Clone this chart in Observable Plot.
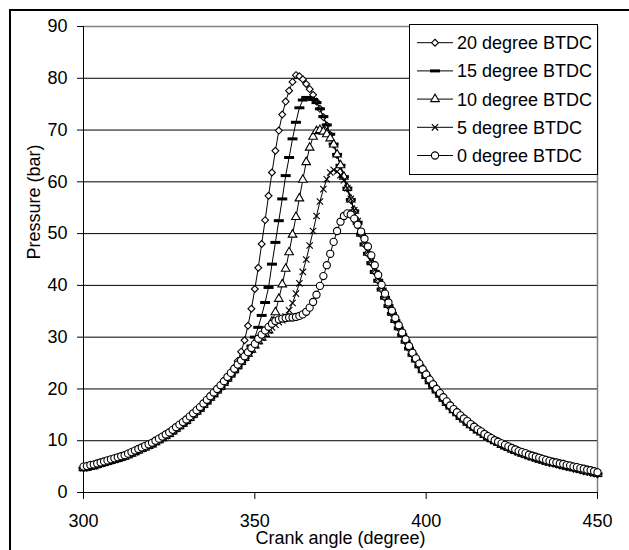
<!DOCTYPE html>
<html>
<head>
<meta charset="utf-8">
<script src="https://cdn.jsdelivr.net/npm/d3@7"></script>
<script src="https://cdn.jsdelivr.net/npm/@observablehq/plot@0.6"></script>
<style>
  html, body { margin: 0; padding: 0; background: #fff; }
  #wrap { position: relative; width: 629px; height: 550px; overflow: hidden; background: #fff;
          font-family: "Liberation Sans", Arial, sans-serif; }
  #wrap svg { position: absolute; left: 0; top: 0; }
  #outer { position: absolute; left: 9px; top: 9px; width: 700px; height: 700px;
           border-left: 2px solid #000; border-top: 2px solid #000; box-sizing: border-box; }
</style>
</head>
<body>
<div id="wrap"></div>
<script>
// ---------- data ----------
const seriesNames = ["20 degree BTDC", "15 degree BTDC", "10 degree BTDC", "5 degree BTDC", "0 degree BTDC"];
const xTicks = [300, 350, 400, 450];
const yTicks = [0, 10, 20, 30, 40, 50, 60, 70, 80, 90];
const crankAngle = d3.range(300, 451, 1); // sampling grid, 1 degree

const p20 = [
  4.7,4.8,5.0,5.1,5.3,5.5,5.7,5.9,6.1,6.3,
  6.5,6.7,6.9,7.2,7.5,7.8,8.1,8.4,8.7,9.0,
  9.3,9.7,10.1,10.5,10.9,11.3,11.8,12.3,12.8,13.3,
  13.8,14.4,15.0,15.6,16.2,16.9,17.6,18.3,19.0,19.7,
  20.4,21.2,22.0,22.8,24.0,25.4,27.2,29.4,32.2,35.5,
  39.3,43.4,48.0,52.6,57.3,61.8,66.0,69.9,73.0,75.5,
  77.6,79.3,80.6,80.4,79.8,78.9,77.9,76.8,75.5,74.1,
  72.5,70.9,69.1,67.2,65.2,63.1,60.9,58.7,56.5,54.3,
  52.1,49.8,47.9,46.1,44.3,42.6,40.9,39.2,37.6,36.0,
  34.5,33.1,31.7,30.4,29.1,27.8,26.6,25.5,24.4,23.4,
  22.4,21.4,20.5,19.6,18.8,18.0,17.2,16.5,15.8,15.2,
  14.5,14.0,13.4,12.9,12.4,11.9,11.5,11.0,10.6,10.2,
  9.8,9.5,9.1,8.8,8.5,8.2,7.9,7.7,7.4,7.2,
  6.9,6.7,6.5,6.3,6.1,5.9,5.7,5.6,5.4,5.2,
  5.1,4.9,4.8,4.6,4.5,4.3,4.1,4.0,3.8,3.7,
  3.5
];
const p15 = [
  4.7,4.8,5.0,5.1,5.3,5.5,5.7,5.9,6.1,6.3,
  6.5,6.7,6.9,7.2,7.5,7.8,8.1,8.4,8.7,9.0,
  9.3,9.7,10.1,10.5,10.9,11.3,11.8,12.3,12.8,13.3,
  13.8,14.4,15.0,15.6,16.2,16.9,17.6,18.3,19.0,19.7,
  20.4,21.2,22.0,22.8,23.6,24.4,25.2,26.0,27.0,28.3,
  30.0,31.9,34.2,36.7,39.6,44.1,48.3,52.5,56.7,61.2,
  64.7,68.3,71.5,74.3,75.8,76.3,76.2,75.9,75.3,74.1,
  72.6,71.0,69.2,67.3,65.3,63.2,61.0,58.8,56.6,54.4,
  52.2,49.9,48.0,46.2,44.4,42.7,41.0,39.3,37.7,36.1,
  34.6,33.2,31.8,30.5,29.2,27.9,26.7,25.6,24.5,23.5,
  22.5,21.5,20.6,19.7,18.9,18.1,17.3,16.6,15.9,15.3,
  14.6,14.1,13.5,13.0,12.5,12.0,11.6,11.1,10.7,10.3,
  9.9,9.6,9.2,8.9,8.6,8.3,8.0,7.8,7.5,7.3,
  7.0,6.8,6.6,6.4,6.2,6.0,5.8,5.7,5.5,5.3,
  5.2,5.0,4.9,4.7,4.6,4.4,4.2,4.1,3.9,3.8,
  3.6
];
const p10 = [
  4.7,4.8,5.0,5.1,5.3,5.5,5.7,5.9,6.1,6.3,
  6.5,6.7,6.9,7.2,7.5,7.8,8.1,8.4,8.7,9.0,
  9.3,9.7,10.1,10.5,10.9,11.3,11.8,12.3,12.8,13.3,
  13.8,14.4,15.0,15.6,16.2,16.9,17.6,18.3,19.0,19.7,
  20.4,21.2,22.0,22.8,23.6,24.4,25.2,26.0,26.8,27.6,
  28.4,29.2,29.9,30.6,31.3,33.0,34.8,37.4,40.2,43.2,
  46.4,49.8,53.2,56.8,60.4,63.8,66.6,68.7,69.8,70.0,
  69.7,69.2,68.4,67.2,65.3,63.2,61.0,58.8,56.6,54.4,
  52.3,50.0,48.1,46.3,44.5,42.8,41.1,39.4,37.8,36.2,
  34.7,33.3,31.9,30.6,29.3,28.0,26.8,25.7,24.6,23.6,
  22.5,21.5,20.6,19.7,18.9,18.1,17.3,16.6,15.9,15.3,
  14.6,14.1,13.5,13.0,12.5,12.0,11.6,11.1,10.7,10.3,
  9.9,9.6,9.2,8.9,8.6,8.3,8.0,7.8,7.5,7.3,
  7.0,6.8,6.6,6.4,6.2,6.0,5.8,5.7,5.5,5.3,
  5.2,5.0,4.9,4.7,4.6,4.4,4.2,4.1,3.9,3.8,
  3.6
];
const p5 = [
  4.7,4.8,5.0,5.1,5.3,5.5,5.7,5.9,6.1,6.3,
  6.5,6.7,6.9,7.2,7.5,7.8,8.1,8.4,8.7,9.0,
  9.3,9.7,10.1,10.5,10.9,11.3,11.8,12.3,12.8,13.3,
  13.8,14.4,15.0,15.6,16.2,16.9,17.6,18.3,19.0,19.7,
  20.4,21.2,22.0,22.8,23.6,24.4,25.2,26.0,26.8,27.6,
  28.4,29.2,29.9,30.6,31.3,31.9,32.4,32.9,33.3,34.0,
  35.2,36.6,38.4,40.4,42.6,45.0,47.7,50.5,53.4,56.2,
  58.6,60.5,61.8,62.3,62.0,61.3,60.3,58.8,56.7,54.5,
  52.4,50.2,48.3,46.5,44.7,43.0,41.3,39.6,38.0,36.4,
  34.8,33.4,32.0,30.7,29.4,28.1,26.9,25.8,24.7,23.7,
  22.6,21.6,20.7,19.8,19.0,18.2,17.4,16.7,16.0,15.4,
  14.7,14.2,13.6,13.1,12.6,12.1,11.7,11.2,10.8,10.4,
  10.0,9.6,9.3,9.0,8.7,8.4,8.1,7.8,7.6,7.3,
  7.1,6.9,6.6,6.4,6.2,6.0,5.9,5.7,5.5,5.4,
  5.2,5.1,4.9,4.8,4.6,4.5,4.3,4.1,4.0,3.8,
  3.6
];
const p0 = [
  5.0,5.1,5.3,5.4,5.6,5.8,6.0,6.2,6.4,6.6,
  6.8,7.0,7.2,7.5,7.8,8.1,8.4,8.7,9.0,9.3,
  9.6,10.0,10.4,10.8,11.2,11.6,12.1,12.6,13.1,13.6,
  14.1,14.7,15.3,15.9,16.5,17.2,17.9,18.6,19.3,20.0,
  20.7,21.5,22.3,23.1,23.9,24.7,25.5,26.3,27.1,27.9,
  28.7,29.7,30.5,31.3,32.0,32.6,33.1,33.4,33.6,33.7,
  33.8,33.8,33.9,34.1,34.4,34.9,35.7,36.8,38.2,39.9,
  41.8,43.9,46.1,48.4,50.5,52.3,53.4,53.9,53.7,52.9,
  51.7,50.4,49.0,47.5,45.8,43.9,42.0,40.1,38.4,36.7,
  35.1,33.7,32.3,30.9,29.6,28.3,27.0,25.9,24.9,23.8,
  22.8,21.8,20.9,20.0,19.2,18.4,17.6,16.8,16.1,15.5,
  14.9,14.3,13.8,13.2,12.7,12.2,11.8,11.3,10.9,10.5,
  10.1,9.8,9.5,9.2,8.9,8.6,8.3,8.0,7.8,7.6,
  7.3,7.1,6.9,6.7,6.5,6.3,6.1,5.9,5.8,5.6,
  5.5,5.3,5.2,5.0,4.9,4.7,4.6,4.4,4.3,4.1,
  3.9
];
const seriesValues = [p20, p15, p10, p5, p0];

// ---------- styling ----------
const dashSymbol = { draw(ctx) { ctx.rect(-5, -1.5, 10, 3); } };
const markerStyles = [
  { plotSymbol: "diamond2", d3Symbol: d3.symbolDiamond2, r: 3.1, fill: "white", stroke: "black" },
  { plotSymbol: dashSymbol, d3Symbol: dashSymbol, r: 3.0, fill: "black", stroke: "none" },
  { plotSymbol: "triangle", d3Symbol: d3.symbolTriangle, r: 3.2, fill: "white", stroke: "black" },
  { plotSymbol: "times", d3Symbol: d3.symbolTimes, r: 3.0, fill: "none", stroke: "black" },
  { plotSymbol: "circle", d3Symbol: d3.symbolCircle, r: 3.6, fill: "white", stroke: "black" }
];

const tables = seriesValues.map((vals, s) =>
  crankAngle.map((a, i) => ({ angle: a, p: vals[i], series: seriesNames[s] })));

const seriesMarks = [];
tables.forEach((t, s) => {
  const m = markerStyles[s];
  seriesMarks.push(Plot.line(t, { x: "angle", y: "p", stroke: "black", strokeWidth: 1 }));
  seriesMarks.push(Plot.dot(t, { x: "angle", y: "p", symbol: m.plotSymbol, r: m.r,
    fill: m.fill, stroke: m.stroke, strokeWidth: 1.1 }));
});

const W = 629, H = 550;
const chart = Plot.plot({
  width: W, height: H,
  marginLeft: 83, marginRight: 32, marginTop: 26, marginBottom: 58,
  x: { domain: [300, 450] },
  y: { domain: [0, 90] },
  style: { fontFamily: "'Liberation Sans', Arial, sans-serif", fontSize: "18px", color: "#000", background: "transparent" },
  marks: [
    Plot.ruleY(yTicks.filter(d => d > 0 && d < 90), { stroke: "#000", strokeWidth: 1 }),
    Plot.ruleY([90], { stroke: "#808080", strokeWidth: 1.5 }),
    Plot.ruleX([450], { stroke: "#808080", strokeWidth: 1.5 }),
    Plot.axisY({ ticks: yTicks, tickSize: 6, tickPadding: 10, label: null, tickFormat: d => String(d) }),
    Plot.axisX({ ticks: xTicks, tickSize: 7, tickPadding: 15, label: null, tickFormat: d => String(d) }),
    Plot.ruleX([300], { stroke: "#000", strokeWidth: 1 }),
    Plot.ruleY([0], { stroke: "#000", strokeWidth: 1 }),
    ...seriesMarks,
    Plot.text(["Pressure (bar)"], { frameAnchor: "left", dx: -49, rotate: -90, fill: "black" }),
    Plot.text(["Crank angle (degree)"], { frameAnchor: "bottom", dy: 51, fill: "black" })
  ]
});

const wrap = document.getElementById("wrap");
wrap.appendChild(chart);

// ---------- legend (box overlay in the top-right of the plot area) ----------
const leg = d3.create("svg").attr("width", W).attr("height", H)
  .style("font-family", "'Liberation Sans', Arial, sans-serif").style("font-size", "18px");
const box = { x: 409.5, y: 24.5, w: 188, h: 150 };
leg.append("rect").attr("x", box.x).attr("y", box.y).attr("width", box.w).attr("height", box.h)
  .attr("fill", "white").attr("stroke", "black").attr("stroke-width", 1);
const rowStart = 42.7, rowStep = 28.2;
seriesNames.forEach((name, i) => {
  const m = markerStyles[i];
  const g = leg.append("g").attr("transform", `translate(0,${rowStart + i * rowStep})`);
  g.append("line").attr("x1", 417).attr("x2", 453).attr("y1", 0).attr("y2", 0)
    .attr("stroke", "black").attr("stroke-width", 1);
  g.append("path").attr("transform", "translate(435,0)")
    .attr("d", d3.symbol(m.d3Symbol, Math.PI * m.r * m.r)())
    .attr("fill", m.fill).attr("stroke", m.stroke).attr("stroke-width", 1.1);
  g.append("text").attr("x", 457).attr("y", 0).attr("dy", "0.36em").attr("fill", "black").text(name);
});
wrap.appendChild(leg.node());

const outer = document.createElement("div");
outer.id = "outer";
wrap.appendChild(outer);
</script>
</body>
</html>
